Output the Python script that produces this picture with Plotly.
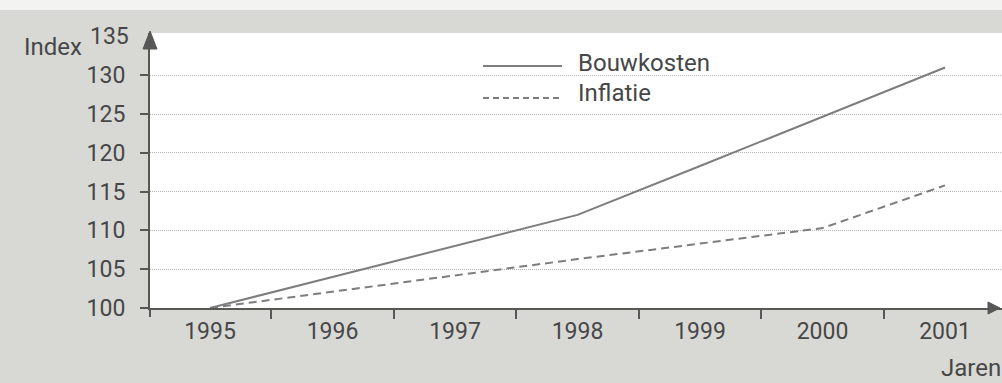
import plotly.graph_objects as go

years = [1995, 1996, 1997, 1998, 1999, 2000, 2001]
bouwkosten = [100, 104, 108, 112, 118.3, 124.7, 131]
inflatie = [100, 102.1, 104.2, 106.3, 108.3, 110.3, 115.8]
y_ticks = [100, 105, 110, 115, 120, 125, 130]
y_top_label = "135"
x_labels = [str(y) for y in years]

TXT = "#474747"
LINE = "#7d7d7d"
AX = "#575757"
NUM_FONT = "Roboto, Liberation Sans, sans-serif"
TXT_FONT = "Roboto, DejaVu Sans Condensed, sans-serif"

fig = go.Figure()
fig.add_trace(go.Scatter(x=years, y=bouwkosten, mode="lines", name="Bouwkosten",
                         line=dict(color=LINE, width=2), showlegend=False))
fig.add_trace(go.Scatter(x=years, y=inflatie, mode="lines", name="Inflatie",
                         line=dict(color=LINE, width=2, dash="8px,5px"), showlegend=False))

W, H = 1002, 383
L, R, T, B = 150, 0, 33, 75
pw, ph = W - L - R, H - T - B

def px(xp):
    return (xp - L) / pw

def py(yp):
    return (H - B - yp) / ph

shapes = [
    # light strip at the very top of the scan
    dict(type="rect", xref="paper", yref="paper", x0=px(0), x1=px(W), y0=py(10), y1=py(-2),
         fillcolor="#f3f3f1", line=dict(width=0), layer="below"),
    # y-axis arrowhead
    dict(type="path", xref="paper", yref="paper",
         path=f"M {px(143)},{py(49)} L {px(157)},{py(49)} L {px(150)},{py(31)} Z",
         fillcolor=AX, line=dict(color=AX, width=1)),
    # x-axis arrowhead
    dict(type="path", xref="paper", yref="paper",
         path=f"M {px(988)},{py(302)} L {px(988)},{py(314)} L {px(1000)},{py(308)} Z",
         fillcolor=AX, line=dict(color=AX, width=1)),
    # y-axis stub below the x axis
    dict(type="line", xref="paper", yref="paper", x0=0, x1=0, y0=py(308), y1=py(317),
         line=dict(color=AX, width=2)),
    # legend samples
    dict(type="line", xref="paper", yref="paper", x0=px(483), x1=px(562), y0=py(66), y1=py(66),
         line=dict(color=LINE, width=2)),
    dict(type="line", xref="paper", yref="paper", x0=px(483), x1=px(562), y0=py(98), y1=py(98),
         line=dict(color=LINE, width=2, dash="6px,4px")),
]

annotations = [
    dict(text="Index", xref="paper", yref="paper", x=px(22), y=py(47), xanchor="left",
         yanchor="middle", showarrow=False, font=dict(family=TXT_FONT, size=24, color=TXT)),
    dict(text="Jaren", xref="paper", yref="paper", x=px(1003), y=py(368), xanchor="right",
         yanchor="middle", showarrow=False, font=dict(family=TXT_FONT, size=24, color=TXT)),
    dict(text=y_top_label, xref="paper", yref="paper", x=px(131), y=py(37), xanchor="right",
         yanchor="middle", showarrow=False, font=dict(family=NUM_FONT, size=23, color=TXT)),
    dict(text="Bouwkosten", xref="paper", yref="paper", x=px(576), y=py(63), xanchor="left",
         yanchor="middle", showarrow=False, font=dict(family=TXT_FONT, size=24, color=TXT)),
    dict(text="Inflatie", xref="paper", yref="paper", x=px(576), y=py(93), xanchor="left",
         yanchor="middle", showarrow=False, font=dict(family=TXT_FONT, size=24, color=TXT)),
]

fig.update_layout(
    width=W, height=H,
    margin=dict(l=L, r=R, t=T, b=B, pad=0),
    paper_bgcolor="#d8d9d5",
    plot_bgcolor="#ffffff",
    shapes=shapes,
    annotations=annotations,
    xaxis=dict(
        range=[1994.51, 2001.465], tickmode="array", tickvals=years, ticktext=x_labels,
        ticks="", showgrid=False, zeroline=False, showline=True, linecolor=AX, linewidth=2,
        tickfont=dict(family=NUM_FONT, size=23, color=TXT), ticklabelstandoff=1,
        minor=dict(tickmode="array", tickvals=[y + 0.5 for y in years[:-1]],
                   ticks="outside", ticklen=9, tickwidth=2, tickcolor=AX, showgrid=False),
        fixedrange=True,
    ),
    yaxis=dict(
        range=[100, 135.44], tickmode="array", tickvals=y_ticks,
        ticks="outside", ticklen=8, tickwidth=2, tickcolor=AX,
        showgrid=True, gridcolor="#b3b3b3", gridwidth=1, griddash="1px,1px",
        zeroline=False, showline=True, linecolor=AX, linewidth=2,
        tickfont=dict(family=NUM_FONT, size=23, color=TXT), ticklabelstandoff=10,
        fixedrange=True,
    ),
)

fig.write_html("out.html")
